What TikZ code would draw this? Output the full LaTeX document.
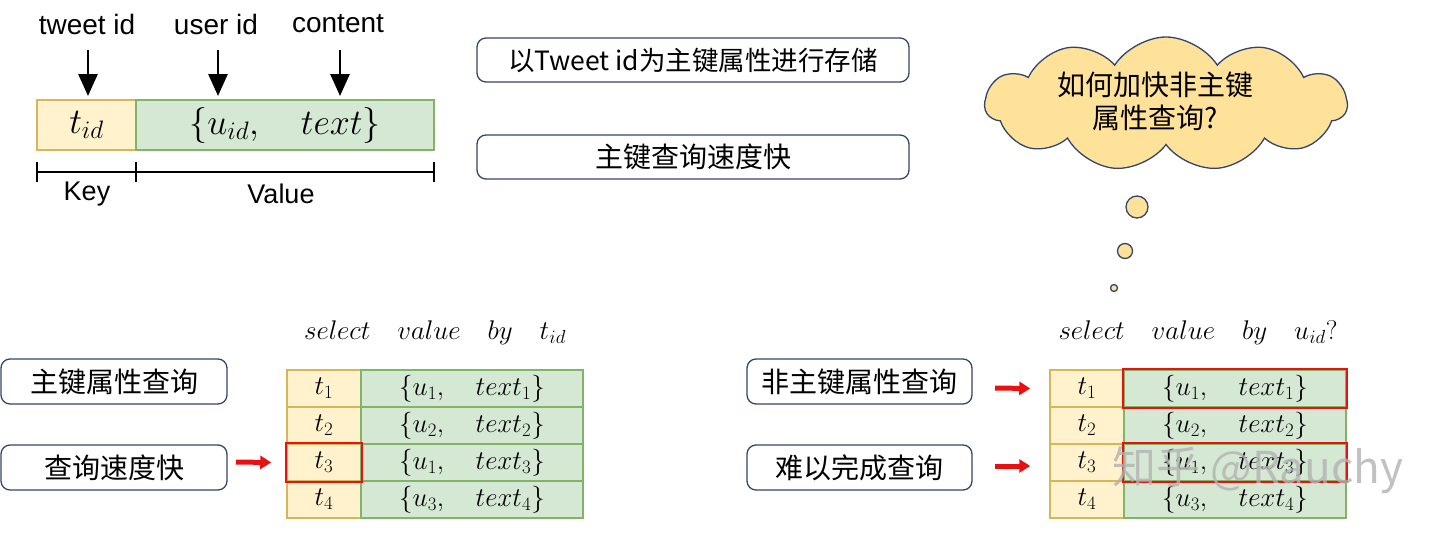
\RequirePackage{fix-cm}
\documentclass[tikz,border=0pt]{standalone}
\usepackage{fontspec}
\setmainfont{Liberation Sans}
\newfontfamily\cjk{Noto Sans CJK SC}
\usetikzlibrary{shapes.symbols,arrows.meta}
\definecolor{kfill}{HTML}{FFF2CC}
\definecolor{kdraw}{HTML}{D6B656}
\definecolor{vfill}{HTML}{D5E8D4}
\definecolor{vdraw}{HTML}{82B366}
\definecolor{bdraw}{HTML}{34456A}
\definecolor{cfill}{HTML}{FFE29A}
\definecolor{hred}{HTML}{E81010}
\tikzset{
  lbl/.style={font=\fontsize{28}{32}\selectfont, inner sep=0pt},
  keybox/.style={draw=kdraw, fill=kfill, line width=1.5pt, inner sep=0pt},
  valbox/.style={draw=vdraw, fill=vfill, line width=1.5pt, inner sep=0pt},
  bigmath/.style={font=\fontsize{36}{40}\selectfont},
  midmath/.style={font=\fontsize{27}{30}\selectfont},
  rbox/.style={draw=bdraw, line width=1.3pt, rounded corners=9pt, inner sep=0pt},
  cjkbig/.style={font=\cjk\fontsize{28}{32}\selectfont},
  kcell/.style={keybox, minimum width=74pt, minimum height=37pt, midmath},
  vcell/.style={valbox, minimum width=222pt, minimum height=37pt, midmath},
  hl/.style={draw=hred, line width=1.8pt},
  blk/.style={line width=2.8pt, -{Triangle[width=19pt,length=22pt]}},
  redarr/.style={draw=hred, line width=5pt, -{Triangle[width=13pt,length=11pt]}},
  brk/.style={line width=2.4pt},
  bub/.style={circle, draw=bdraw, fill=cfill, line width=1.3pt, inner sep=0pt},
}
\begin{document}
\begin{tikzpicture}[x=1pt,y=-1pt]
\useasboundingbox (0,0) rectangle (1440,538);

% ---------- top-left key/value ----------
\node[lbl] (tw) at (87,24) {tweet id};
\node[lbl] (ui) at (216,24) {user id};
\node[lbl] (co) at (338,24) {content};
\node[keybox, minimum width=99pt, minimum height=50pt, bigmath] (key) at (86.5,125) {$t_{id}$};
\node[valbox, minimum width=298pt, minimum height=50pt, bigmath] (val) at (285,125) {$\{u_{id},\quad text\}$};
\coordinate (a1) at (88,50); \coordinate (a1e) at (88,96);
\coordinate (a2) at (218,50); \coordinate (a2e) at (218,96);
\coordinate (a3) at (340,50); \coordinate (a3e) at (340,96);
\draw[blk] (a1) -- (a1e);
\draw[blk] (a2) -- (a2e);
\draw[blk] (a3) -- (a3e);
\coordinate (b1) at (37,172); \coordinate (b2) at (136,172); \coordinate (b3) at (434,172);
\draw[brk] (b1) -- (b3);
\draw[brk] ([yshift=-10pt]b1) -- ([yshift=10pt]b1);
\draw[brk] ([yshift=-10pt]b2) -- ([yshift=10pt]b2);
\draw[brk] ([yshift=-10pt]b3) -- ([yshift=10pt]b3);
\node[lbl, font=\fontsize{27}{30}\selectfont] (kl) at (87,194) {Key};
\node[lbl, font=\fontsize{27}{30}\selectfont] (vl) at (281,194) {Value};

% ---------- top middle boxes ----------
\node[rbox, minimum width=432pt, minimum height=44pt, font=\cjk\fontsize{26.5}{30}\selectfont] (s1) at (693,60) {以Tweet id为主键属性进行存储};
\node[rbox, minimum width=432pt, minimum height=44pt, cjkbig] (s2) at (693,157) {主键查询速度快};

% ---------- cloud ----------
\node[cloud, cloud puffs=11, cloud puff arc=115, aspect=2.7, draw=bdraw, fill=cfill, line width=1.3pt,
      minimum width=362pt, minimum height=134pt, inner sep=0pt] (cl) at (1166,104) {};
\node[align=center, inner sep=0pt, font=\cjk\fontsize{28}{33}\selectfont] (ct) at (1155,101) {如何加快非主键\\属性查询?};
\node[bub, minimum size=22pt] (c1) at (1137,207) {};
\node[bub, minimum size=15pt] (c2) at (1125,251) {};
\node[bub, minimum size=7pt] (c3) at (1114,288) {};

% ---------- bottom-left ----------
\node[midmath] (q1) at (435,333) {$select\quad value\quad by\quad t_{id}$};
\node[rbox, minimum width=226pt, minimum height=45pt, cjkbig] (p1) at (114,381.5) {主键属性查询};
\node[rbox, minimum width=226pt, minimum height=45pt, cjkbig] (p2) at (114,467.5) {查询速度快};
\node[kcell] (lk1) at (324,388.5) {$t_1$};
\node[kcell] (lk2) at (324,425.5) {$t_2$};
\node[kcell] (lk3) at (324,462.5) {$t_3$};
\node[kcell] (lk4) at (324,499.5) {$t_4$};
\node[vcell] (lv1) at (472,388.5) {$\{u_1,\quad text_1\}$};
\node[vcell] (lv2) at (472,425.5) {$\{u_2,\quad text_2\}$};
\node[vcell] (lv3) at (472,462.5) {$\{u_1,\quad text_3\}$};
\node[vcell] (lv4) at (472,499.5) {$\{u_3,\quad text_4\}$};
\draw[hl] (lk3.north west) rectangle (lk3.south east);
\coordinate (la) at (236,462);
\draw[redarr] (la) -- ([xshift=-15pt]lk3.west);

% ---------- bottom-right ----------
\node[midmath] (q2) at (1198,333) {$select\quad value\quad by\quad u_{id}?$};
\node[rbox, minimum width=225pt, minimum height=45pt, cjkbig] (r1) at (859.5,381.5) {非主键属性查询};
\node[rbox, minimum width=225pt, minimum height=45pt, cjkbig] (r2) at (859.5,467.5) {难以完成查询};
\node[kcell] (rk1) at (1087,388.5) {$t_1$};
\node[kcell] (rk2) at (1087,425.5) {$t_2$};
\node[kcell] (rk3) at (1087,462.5) {$t_3$};
\node[kcell] (rk4) at (1087,499.5) {$t_4$};
\node[vcell] (rv1) at (1235,388.5) {$\{u_1,\quad text_1\}$};
\node[vcell] (rv2) at (1235,425.5) {$\{u_2,\quad text_2\}$};
\node[vcell] (rv3) at (1235,462.5) {$\{u_1,\quad text_3\}$};
\node[vcell] (rv4) at (1235,499.5) {$\{u_3,\quad text_4\}$};
\draw[hl] (rv1.north west) rectangle (rv1.south east);
\draw[hl] (rv3.north west) rectangle (rv3.south east);
\coordinate (ra1) at (995,388);
\coordinate (ra2) at (995,466);
\draw[redarr] (ra1) -- ([xshift=-19pt]rk1.west);
\draw[redarr] (ra2) -- ([xshift=-19pt]rk3.west |- ra2);

% ---------- watermark ----------
\node[text=gray!60, text opacity=0.8, font=\cjk\fontsize{44}{48}\selectfont] (wm) at (1258,470) {知乎 @Rauchy};
\end{tikzpicture}
\end{document}
